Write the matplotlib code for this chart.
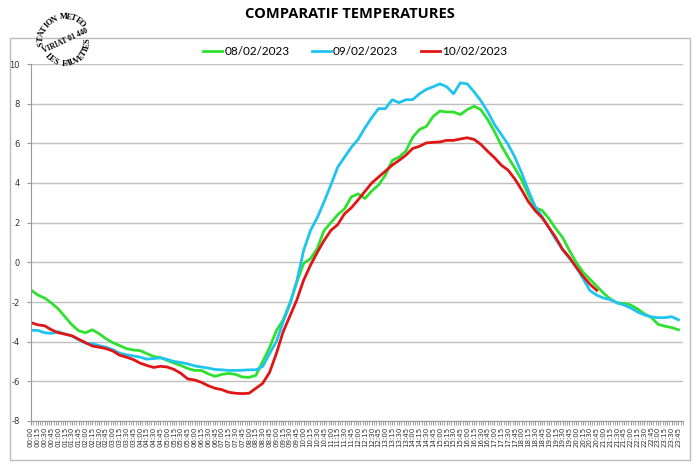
import numpy as np
import matplotlib
matplotlib.use("Agg")
import matplotlib.pyplot as plt
from matplotlib.patches import Rectangle

# temperatures releves toutes les 15 minutes
heures = ["%02d:%02d" % (h, m) for h in range(24) for m in (0, 15, 30, 45)]

t_0802 = [-1.40, -1.65, -1.80, -2.05, -2.35, -2.75, -3.15, -3.45, -3.55, -3.40,
          -3.60, -3.85, -4.05, -4.20, -4.35, -4.42, -4.45, -4.60, -4.75, -4.80,
          -4.95, -5.08, -5.20, -5.35, -5.45, -5.45, -5.62, -5.75, -5.65, -5.60,
          -5.65, -5.78, -5.80, -5.70, -5.00, -4.30, -3.45, -2.90, -2.05, -1.00,
          -0.05, 0.18, 0.70, 1.60, 2.00, 2.40, 2.70, 3.30, 3.45, 3.22,
          3.60, 3.90, 4.40, 5.14, 5.31, 5.61, 6.30, 6.70, 6.85, 7.35,
          7.63, 7.58, 7.58, 7.45, 7.70, 7.87, 7.70, 7.20, 6.60, 5.90,
          5.30, 4.75, 4.15, 3.40, 2.75, 2.62, 2.20, 1.70, 1.25, 0.60,
          0.00, -0.49, -0.85, -1.20, -1.55, -1.85, -2.05, -2.07, -2.15, -2.35,
          -2.60, -2.77, -3.12, -3.22, -3.29, -3.40]

t_0902 = [-3.43, -3.43, -3.55, -3.58, -3.50, -3.62, -3.72, -3.90, -4.08, -4.10,
          -4.20, -4.28, -4.40, -4.58, -4.66, -4.72, -4.78, -4.88, -4.85, -4.82,
          -4.90, -5.00, -5.05, -5.12, -5.22, -5.28, -5.33, -5.40, -5.42, -5.45,
          -5.45, -5.44, -5.42, -5.42, -5.25, -4.60, -4.00, -3.00, -2.10, -0.95,
          0.60, 1.60, 2.25, 3.05, 3.90, 4.80, 5.30, 5.80, 6.20, 6.78,
          7.30, 7.75, 7.75, 8.20, 8.05, 8.20, 8.20, 8.50, 8.72, 8.85,
          9.00, 8.85, 8.50, 9.05, 9.00, 8.60, 8.15, 7.60, 6.95, 6.45,
          5.95, 5.30, 4.50, 3.60, 2.80, 2.30, 1.75, 1.15, 0.65, 0.20,
          -0.24, -0.82, -1.42, -1.65, -1.80, -1.88, -2.04, -2.15, -2.30, -2.50,
          -2.65, -2.75, -2.79, -2.79, -2.74, -2.90]

t_1002 = [-3.04, -3.15, -3.20, -3.40, -3.55, -3.62, -3.70, -3.88, -4.05, -4.22,
          -4.28, -4.35, -4.47, -4.68, -4.78, -4.90, -5.08, -5.20, -5.30, -5.24,
          -5.28, -5.40, -5.60, -5.88, -5.93, -6.05, -6.22, -6.35, -6.42, -6.55,
          -6.60, -6.62, -6.60, -6.35, -6.10, -5.55, -4.60, -3.50, -2.70, -1.90,
          -0.90, -0.15, 0.50, 1.10, 1.61, 1.90, 2.45, 2.75, 3.15, 3.58,
          4.00, 4.30, 4.60, 4.90, 5.14, 5.40, 5.74, 5.85, 6.02, 6.05,
          6.07, 6.15, 6.15, 6.22, 6.28, 6.20, 5.95, 5.60, 5.28, 4.90,
          4.65, 4.20, 3.65, 3.05, 2.60, 2.25, 1.75, 1.25, 0.65, 0.25,
          -0.25, -0.70, -1.10, -1.41]

jours = ["08/02/2023", "09/02/2023", "10/02/2023"]
couleurs = ["#2FE02F", "#1FC3F0", "#E01515"]

W, H = 700, 470
fig = plt.figure(figsize=(7, 4.7), dpi=100)

def fx(px):
    return px / W

def fy(py):
    return 1 - py / H

# cadre gris autour du graphique
fig.patches.append(Rectangle((fx(10), fy(460)), fx(680), 422 / H, transform=fig.transFigure,
                             fill=False, edgecolor="#BBBBBB", linewidth=1))

ax = fig.add_axes([fx(31), fy(421), fx(652), 357 / H])
minutes = np.arange(len(heures)) * 15
for serie, nom, c in zip([t_0802, t_0902, t_1002], jours, couleurs):
    ax.plot(minutes[:len(serie)], serie, color=c, linewidth=2, label=nom)

ax.set_xlim(0, 1435)
ax.set_ylim(-8, 10)
ax.set_yticks(range(-8, 11, 2))
ax.set_yticklabels([str(v) for v in range(-8, 11, 2)], fontsize=6, color="#333333")
ax.set_xticks(minutes)
ax.set_xticklabels(heures, rotation=90, fontsize=5, color="#333333")
ax.set_xticks(np.arange(0, 1436, 5), minor=True)
ax.tick_params(axis="x", which="both", length=3, color="#999999", pad=1)
ax.tick_params(axis="y", length=3, color="#999999", pad=5)
ax.grid(axis="y", color="#BFBFBF", linewidth=1)
for s in ["top", "right"]:
    ax.spines[s].set_visible(False)
ax.spines["left"].set_color("#999999")
ax.spines["bottom"].set_color("#999999")
ax.set_axisbelow(True)

fig.text(0.5, fy(14), "COMPARATIF TEMPERATURES", ha="center", va="center",
         fontsize=10.5, fontweight="bold", family="Open Sans")

ax.legend(loc="center", bbox_to_anchor=(fx(355), fy(52)), bbox_transform=fig.transFigure,
          ncol=3, frameon=False, handlelength=1.6, handletextpad=0.2,
          columnspacing=1.9, prop={"family": "Lato", "size": 8.5})

# tampon de la station
cx, cy = 65, 41

def arc(texte, a0, a1, rayon, haut):
    angles = np.linspace(a0, a1, len(texte))
    for ch, a in zip(texte, angles):
        ar = np.radians(a)
        px = cx + rayon * np.cos(ar)
        py = cy - rayon * np.sin(ar)
        rot = a - 90 if haut else a + 90
        fig.text(fx(px), fy(py), ch, rotation=rot, ha="center", va="center",
                 fontsize=6, fontweight="bold", family="Liberation Serif",
                 rotation_mode="anchor")

arc("STATION METEO", 186, 46, 24, True)
arc("LES FAUVETTES", 222, 360, 23, False)
fig.text(fx(65), fy(41), "VIRIAT 01 440", rotation=25, ha="center", va="center",
         fontsize=5.5, fontweight="bold", family="Liberation Serif")

fig.savefig("out.png", dpi=100)
